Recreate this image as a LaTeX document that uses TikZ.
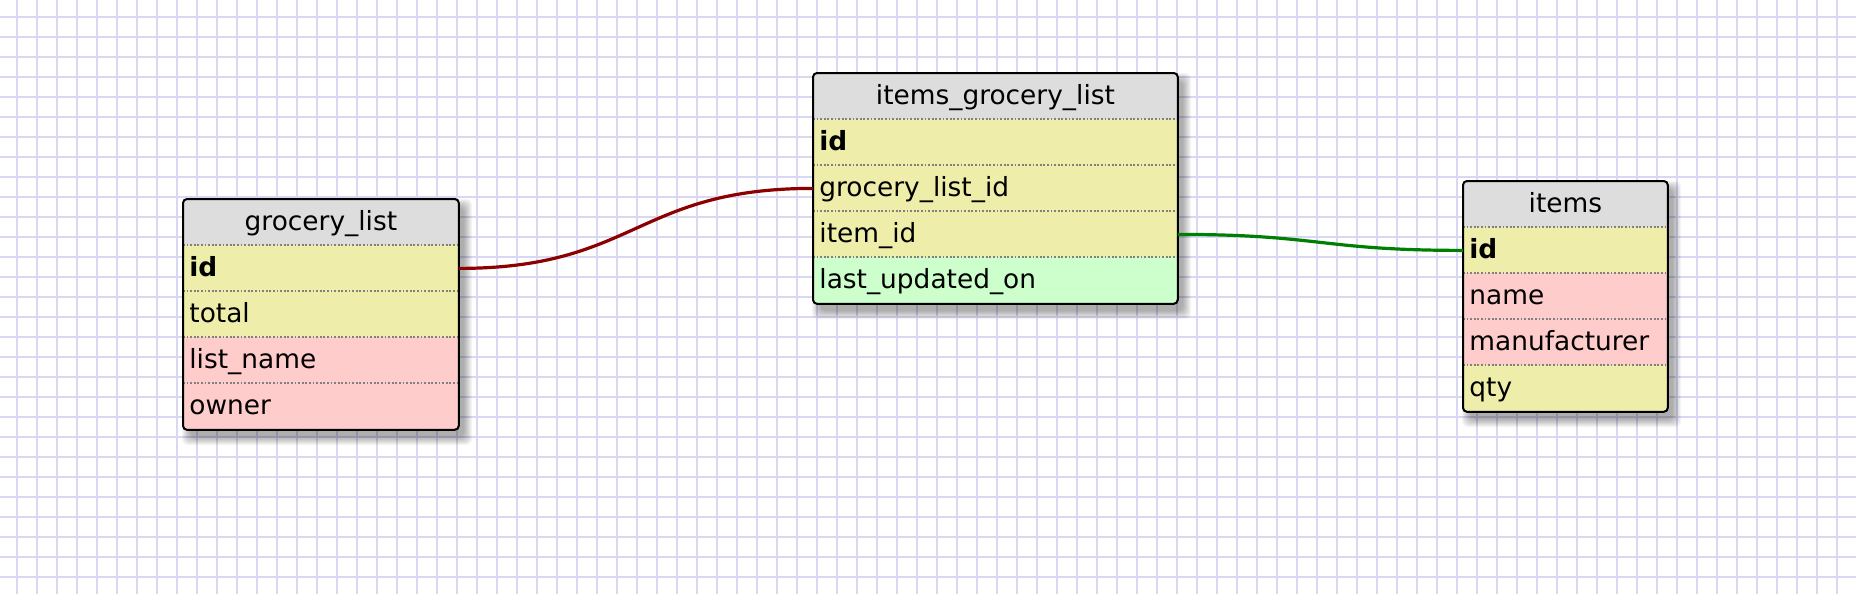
\documentclass[tikz,border=0pt]{standalone}
\usepackage{fontspec}
\setmainfont{DejaVu Sans}
\usetikzlibrary{calc}
\definecolor{gridc}{RGB}{216,216,242}
\definecolor{hdrc}{RGB}{221,221,221}
\definecolor{yel}{RGB}{238,238,170}
\definecolor{pnk}{RGB}{255,204,204}
\definecolor{grn}{RGB}{204,255,204}
\definecolor{sepc}{RGB}{128,128,128}
\definecolor{relred}{RGB}{140,0,0}
\definecolor{relgrn}{RGB}{0,128,0}
\newcommand\tblshadow[4]{%
  \foreach \k in {0,...,8}{%
    \fill[black, opacity=0.04, rounded corners=3pt]
      ({#1+7-\k},{#2+8-\k}) rectangle ({#1+#3+6+\k},{#2+#4+8+\k});
  }%
}
\tikzset{
  gridline/.style={draw=gridc, line width=1pt},
  tbl/.style={inner xsep=3pt, inner ysep=0pt, anchor=north west,
    minimum height=23pt, text height=10pt, text depth=1.5pt,
    font=\fontsize{13.2pt}{15pt}\selectfont},
  cell/.style={tbl, align=left},
  hdr/.style={tbl, align=center, fill=hdrc},
  wA/.style={text width=131.5pt, minimum width=137.5pt},
  wB/.style={text width=176pt, minimum width=182pt},
  wC/.style={text width=96pt, minimum width=102pt},
  sepline/.style={draw=sepc, line width=0.9pt, dash pattern=on 0.9pt off 0.9pt},
  border/.style={draw=black, line width=1pt, rounded corners=2pt},
  rel/.style={line width=1.6pt}
}
\begin{document}
\begin{tikzpicture}[x=0.5pt,y=-0.5pt]
\useasboundingbox (0,0) rectangle (1856,594);
\fill[white] (0,0) rectangle (1856,594);
\foreach \i in {0,...,91} \draw[gridline] ({17+20*\i},0) -- ({17+20*\i},594);
\foreach \j in {0,...,28} \draw[gridline] (0,{17+20*\j}) -- (1856,{17+20*\j});

% ---------- grocery_list ----------
\tblshadow{183}{199}{275}{230}
\begin{scope}
\clip[rounded corners=2pt] (183,199) rectangle (458,429);
\node[hdr, wA] (gl) at (183,199) {grocery\_list};
\node[cell, wA, fill=yel] (gl-id) at (183,245) {\textbf{id}};
\node[cell, wA, fill=yel] (gl-total) at (183,291) {total};
\node[cell, wA, fill=pnk] (gl-name) at (183,337) {list\_name};
\node[cell, wA, fill=pnk] (gl-owner) at (183,383) {owner};
\end{scope}
\foreach \n in {gl-id,gl-total,gl-name,gl-owner}
  \draw[sepline] (\n.north west) -- (\n.north east);
\draw[border] (gl.north west) rectangle (gl-owner.south east);

% ---------- items_grocery_list ----------
\tblshadow{813}{73}{364}{230}
\begin{scope}
\clip[rounded corners=2pt] (813,73) rectangle (1177,303);
\node[hdr, wB] (igl) at (813,73) {items\_grocery\_list};
\node[cell, wB, fill=yel] (igl-id) at (813,119) {\textbf{id}};
\node[cell, wB, fill=yel] (igl-glid) at (813,165) {grocery\_list\_id};
\node[cell, wB, fill=yel] (igl-itemid) at (813,211) {item\_id};
\node[cell, wB, fill=grn] (igl-upd) at (813,257) {last\_updated\_on};
\end{scope}
\foreach \n in {igl-id,igl-glid,igl-itemid,igl-upd}
  \draw[sepline] (\n.north west) -- (\n.north east);
\draw[border] (igl.north west) rectangle (igl-upd.south east);

% ---------- items ----------
\tblshadow{1463}{181}{204}{230}
\begin{scope}
\clip[rounded corners=2pt] (1463,181) rectangle (1667,411);
\node[hdr, wC] (it) at (1463,181) {items};
\node[cell, wC, fill=yel] (it-id) at (1463,227) {\textbf{id}};
\node[cell, wC, fill=pnk] (it-name) at (1463,273) {name};
\node[cell, wC, fill=pnk] (it-man) at (1463,319) {manufacturer};
\node[cell, wC, fill=yel] (it-qty) at (1463,365) {qty};
\end{scope}
\foreach \n in {it-id,it-name,it-man,it-qty}
  \draw[sepline] (\n.north west) -- (\n.north east);
\draw[border] (it.north west) rectangle (it-qty.south east);

% ---------- relations ----------
\draw[rel, relred] let \p1=(gl-id.east), \p2=(igl-glid.west) in
  (\p1) .. controls ({(\x1+\x2)/2},\y1) and ({(\x1+\x2)/2},\y2) .. (\p2);
\draw[rel, relgrn] let \p1=(igl-itemid.east), \p2=(it-id.west) in
  (\p1) .. controls ({(\x1+\x2)/2},\y1) and ({(\x1+\x2)/2},\y2) .. (\p2);
\end{tikzpicture}
\end{document}
